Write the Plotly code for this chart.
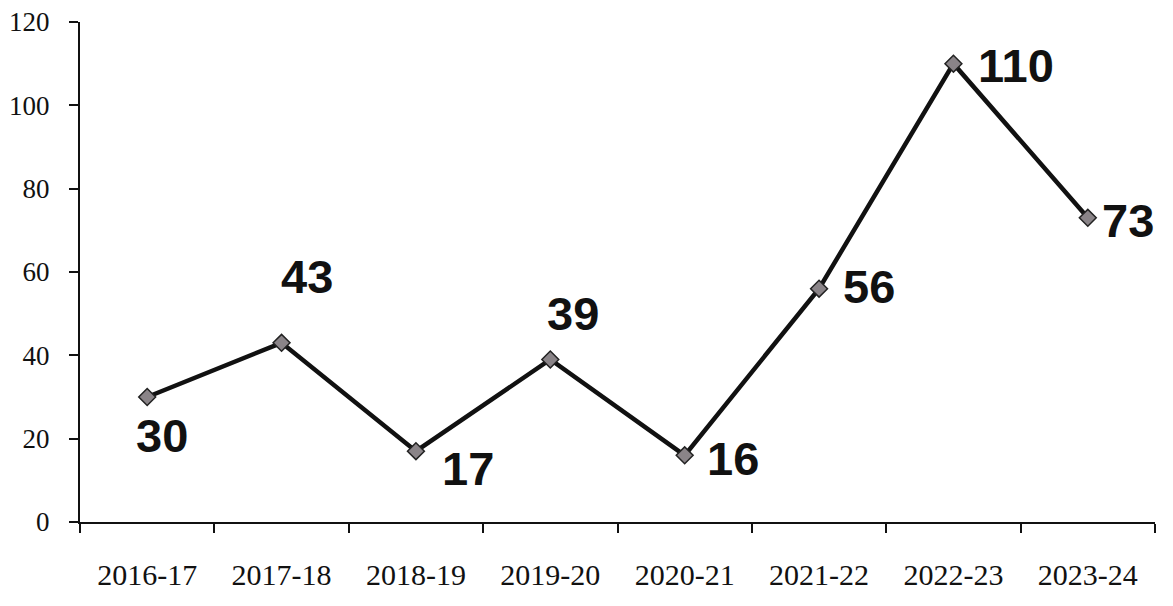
import plotly.graph_objects as go

years = ["2016-17", "2017-18", "2018-19", "2019-20", "2020-21", "2021-22", "2022-23", "2023-24"]
values = [30, 43, 17, 39, 16, 56, 110, 73]
y_ticks = [0, 20, 40, 60, 80, 100, 120]

# label offsets (pixels) from each point, label centred
label_shift = [(15, -38), (25, 66), (52, -17), (23, 46), (48, -3), (50, 2), (63, -2), (40, -3)]

fig = go.Figure()
fig.add_trace(go.Scatter(
    x=years, y=values, mode="lines+markers",
    line=dict(color="#111111", width=4.5),
    marker=dict(symbol="diamond", size=13, color="#8a8488",
                line=dict(color="#222222", width=1.5)),
    hoverinfo="x+y", showlegend=False,
))

for x, v, (xs, ys) in zip(years, values, label_shift):
    fig.add_annotation(
        x=x, y=v, text=str(v), showarrow=False,
        xanchor="center", yanchor="middle", xshift=xs, yshift=ys,
        font=dict(family="Liberation Sans, Arial", size=47, color="#111111", weight="bold"),
    )

fig.update_layout(
    width=1173, height=606,
    margin=dict(l=72, r=26, t=14, b=92),
    paper_bgcolor="white", plot_bgcolor="white",
    font=dict(family="Liberation Serif, serif", color="#111111"),
    xaxis=dict(
        type="category", showline=True, linecolor="#111111", linewidth=2,
        ticks="outside", ticklen=9, tickwidth=2, tickcolor="#111111",
        tickson="boundaries", showgrid=False, zeroline=False,
        tickfont=dict(size=30, family="Liberation Serif, serif"),
        ticklabelstandoff=25, ticklabeloverflow="allow", automargin=False,
        range=[-0.5, 7.5],
    ),
    yaxis=dict(
        range=[0, 120], tickvals=y_ticks, showline=True, linecolor="#111111",
        linewidth=2, ticks="outside", ticklen=9, tickwidth=2, tickcolor="#111111",
        showgrid=False, zeroline=False, ticklabelstandoff=14,
        ticklabeloverflow="allow", automargin=False,
        tickfont=dict(size=27, family="Liberation Serif, serif"),
    ),
)

fig.write_html("out.html")
